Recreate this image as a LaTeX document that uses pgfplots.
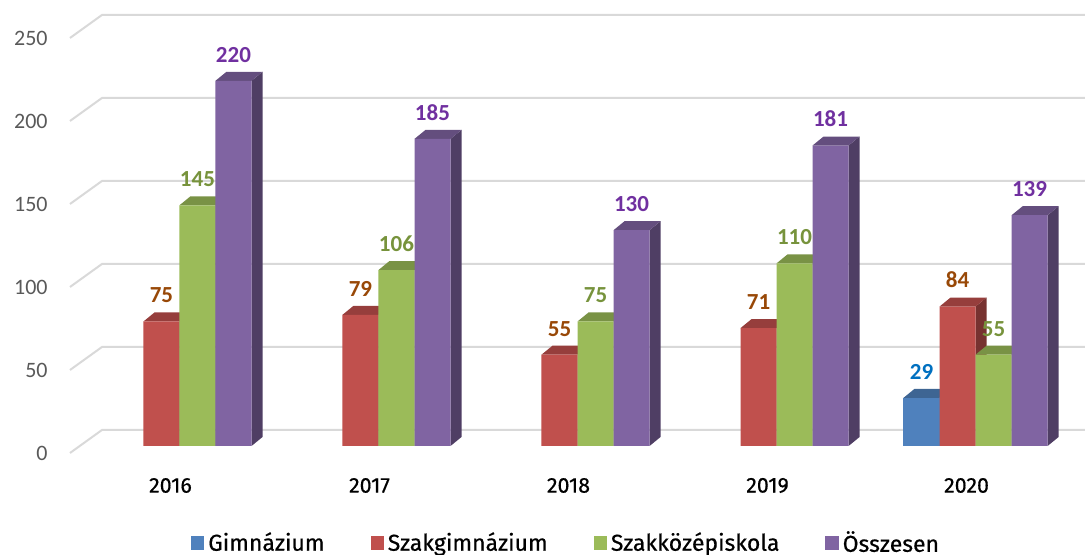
\documentclass[border=0pt]{standalone}
\usepackage{pgfplots}
\pgfplotsset{compat=1.18}
\usepackage{fontspec}
\setmainfont{Carlito}
\newfontfamily\legfont[FakeBold=0.5]{Fira Sans}
\definecolor{blueF}{HTML}{4F81BD}\colorlet{blueS}{blueF!62!black}\colorlet{blueT}{blueF!78!black}
\definecolor{redF}{HTML}{C0504D}\colorlet{redS}{redF!62!black}\colorlet{redT}{redF!78!black}
\definecolor{greenF}{HTML}{9BBB59}\colorlet{greenS}{greenF!62!black}\colorlet{greenT}{greenF!78!black}
\definecolor{purpleF}{HTML}{8064A2}\colorlet{purpleS}{purpleF!62!black}\colorlet{purpleT}{purpleF!78!black}
\definecolor{blueL}{HTML}{0070C0}
\definecolor{redL}{HTML}{984807}
\definecolor{greenL}{HTML}{77933C}
\definecolor{purpleL}{HTML}{7030A0}
\definecolor{gridc}{HTML}{D9D9D9}
\definecolor{tickc}{HTML}{595959}
% 3D side and top faces of one bar: #1 group, #2 offset, #3 value, #4 series
\newcommand\tdbar[4]{%
  \pgfmathsetmacro\xL{#1+#2-0.0905}%
  \pgfmathsetmacro\xR{#1+#2+0.0905}%
  \pgfmathsetmacro\xLd{#1+#2-0.0905+0.05528}%
  \pgfmathsetmacro\xRd{#1+#2+0.0905+0.05528}%
  \pgfmathsetmacro\vT{#3+5.422}%
  \edef\tmp{\noexpand\addplot[draw=none,fill=#4S,forget plot] coordinates {(\xR,0) (\xRd,5.422) (\xRd,\vT) (\xR,#3)};
    \noexpand\addplot[draw=none,fill=#4T,forget plot] coordinates {(\xL,#3) (\xR,#3) (\xRd,\vT) (\xLd,\vT)};}%
  \tmp}
\begin{document}
\begin{tikzpicture}
\begin{axis}[
  scale only axis, width=507.5pt, height=226.5pt,
  xmin=-0.55, xmax=4.55, ymin=-4.217, ymax=268.67,
  enlargelimits=false, clip=false,
  axis line style={draw=none}, major tick length=0pt,
  /pgf/number format/assume math mode=true,
  ytick={0,50,100,150,200,250},
  yticklabel style={anchor=east, inner sep=0pt, xshift=-11pt, yshift=-3.5pt, font=\fontsize{11}{13}\selectfont, text=tickc},
  xtick={0,1,2,3,4},
  xticklabels={2016,2017,2018,2019,2020},
  xticklabel style={anchor=center, inner sep=0pt, yshift=-16.25pt, xshift=-4.5pt, font=\legfont\fontsize{10.7}{12}\selectfont, text=black},
  nodes near coords style={anchor=south, inner sep=0pt, yshift=9pt, font=\bfseries\fontsize{11.5}{13}\selectfont},
  legend style={draw=none, fill=none, at={(0.4897,-0.1987)}, anchor=center, legend columns=4,
    font=\legfont\fontsize{11.5}{13}\selectfont, inner sep=0pt,
    /tikz/every even column/.append style={column sep=21pt}},
  legend image code/.code={\fill[#1,draw=none] (0pt,-3.3pt) rectangle (6.6pt,3.3pt);},
]
% back wall gridlines
\addplot[draw=gridc, line width=1pt, forget plot] coordinates {(-0.55,-4.217) (-0.3894,9.639) (4.55,9.639)};
\addplot[draw=gridc, line width=1pt, forget plot] coordinates {(-0.55,45.783) (-0.3894,59.639) (4.55,59.639)};
\addplot[draw=gridc, line width=1pt, forget plot] coordinates {(-0.55,95.783) (-0.3894,109.639) (4.55,109.639)};
\addplot[draw=gridc, line width=1pt, forget plot] coordinates {(-0.55,145.783) (-0.3894,159.639) (4.55,159.639)};
\addplot[draw=gridc, line width=1pt, forget plot] coordinates {(-0.55,195.783) (-0.3894,209.639) (4.55,209.639)};
\addplot[draw=gridc, line width=1pt, forget plot] coordinates {(-0.55,245.783) (-0.3894,259.639) (4.55,259.639)};
% side and top faces
\tdbar{0}{-0.0905}{75}{red}\tdbar{0}{0.0905}{145}{green}\tdbar{0}{0.2715}{220}{purple}
\tdbar{1}{-0.0905}{79}{red}\tdbar{1}{0.0905}{106}{green}\tdbar{1}{0.2715}{185}{purple}
\tdbar{2}{-0.0905}{55}{red}\tdbar{2}{0.0905}{75}{green}\tdbar{2}{0.2715}{130}{purple}
\tdbar{3}{-0.0905}{71}{red}\tdbar{3}{0.0905}{110}{green}\tdbar{3}{0.2715}{181}{purple}
\tdbar{4}{-0.2715}{29}{blue}\tdbar{4}{-0.0905}{84}{red}\tdbar{4}{0.0905}{55}{green}\tdbar{4}{0.2715}{139}{purple}
% front faces
\addplot[ybar, bar width=0.181, bar shift=-0.2715, fill=blueF, draw=none, nodes near coords,
  every node near coord/.append style={text=blueL, xshift=-27pt}] coordinates {(4,29)};
\addplot[ybar, bar width=0.181, bar shift=-0.0905, fill=redF, draw=none, nodes near coords,
  every node near coord/.append style={text=redL, xshift=-9pt}] coordinates {(0,75) (1,79) (2,55) (3,71) (4,84)};
\addplot[ybar, bar width=0.181, bar shift=0.0905, fill=greenF, draw=none, nodes near coords,
  every node near coord/.append style={text=greenL, xshift=9pt}] coordinates {(0,145) (1,106) (2,75) (3,110) (4,55)};
\addplot[ybar, bar width=0.181, bar shift=0.2715, fill=purpleF, draw=none, nodes near coords,
  every node near coord/.append style={text=purpleL, xshift=27pt}] coordinates {(0,220) (1,185) (2,130) (3,181) (4,139)};
\legend{Gimnázium,Szakgimnázium,Szakközépiskola,Összesen}
\end{axis}
\pgfresetboundingbox
\path (-35pt,-51pt) rectangle (507.5pt,226.5pt);
\end{tikzpicture}
\end{document}
